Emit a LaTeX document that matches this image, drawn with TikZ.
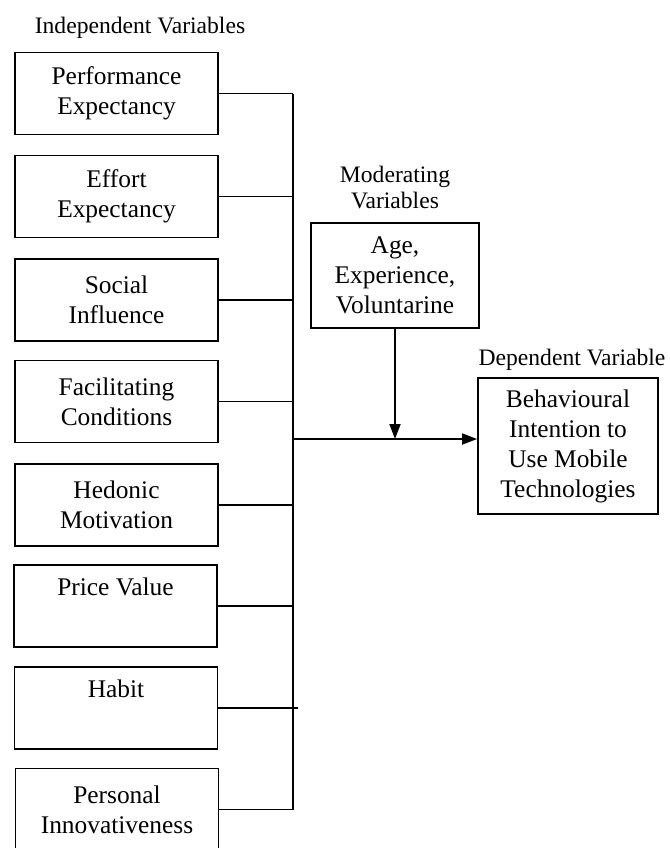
\documentclass[tikz,border=0pt]{standalone}
\usepackage{fontspec}
\setmainfont{Liberation Serif}
\usepackage{tikz}
\usetikzlibrary{arrows.meta,positioning,calc}

\begin{document}
\begin{tikzpicture}[x=0.5pt, y=-0.5pt, >={Triangle[length=7.5pt,width=5.5pt]},
  varbox/.style={draw, line width=0.9pt, align=center, inner sep=0pt,
    font=\fontsize{12.7}{15}\selectfont},
  ivbox/.style={varbox, minimum width=101.5pt, minimum height=41pt},
  grouplabel/.style={align=center, inner sep=0pt, anchor=base,
    font=\fontsize{11.8}{13}\selectfont},
  link/.style={line width=0.9pt}]
\useasboundingbox (0,0) rectangle (670,848);
% Independent variables (left column)
\node[grouplabel] (ivlabel) at (140,33) {Independent Variables};
\node[ivbox] (pe) at (116.5,93.5) {Performance\\Expectancy};
\node[ivbox] (ee) at (116.5,196.5) {Effort\\Expectancy};
\node[ivbox] (si) at (116.5,300) {Social\\Influence};
\node[ivbox] (fc) at (116.5,401.5) {Facilitating\\Conditions};
\node[ivbox] (hm) at (116.5,505) {Hedonic\\Motivation};
\node[ivbox] (pv) at (115.5,606) {Price Value\\\strut};
\node[ivbox] (hb) at (116,708) {Habit\\\strut};
\node[ivbox] (pi) at (117,809.5) {Personal\\Innovativeness};
% Bus line
\coordinate (bus) at (293,0);
\coordinate (join) at (293,439);
\foreach \v in {pe,ee,si,fc,hm,pv,pi}
  \draw[link] (\v.east) -- (\v.east -| bus);
\draw[link] (hb.east) -- ([xshift=2.5pt]hb.east -| bus);
\draw[link] (pe.east -| bus) -- (pi.east -| bus);
% Moderating variables
\node[grouplabel] (mvlabel) at (395,208) {Moderating\\Variables};
\node[varbox, minimum width=84pt, minimum height=52.5pt] (mv) at (395,275.5) {Age,\\Experience,\\Voluntarine};
% Dependent variable
\node[grouplabel] (dvlabel) at (572,365) {Dependent Variable};
\node[varbox, minimum width=90pt, minimum height=68pt] (dv) at (568,446) {Behavioural\\Intention to\\Use Mobile\\Technologies};
% Arrows
\draw[link,->] (join) -- (join -| dv.west);
\draw[link,->] (mv.south) -- (mv.south |- join);
\end{tikzpicture}
\end{document}
